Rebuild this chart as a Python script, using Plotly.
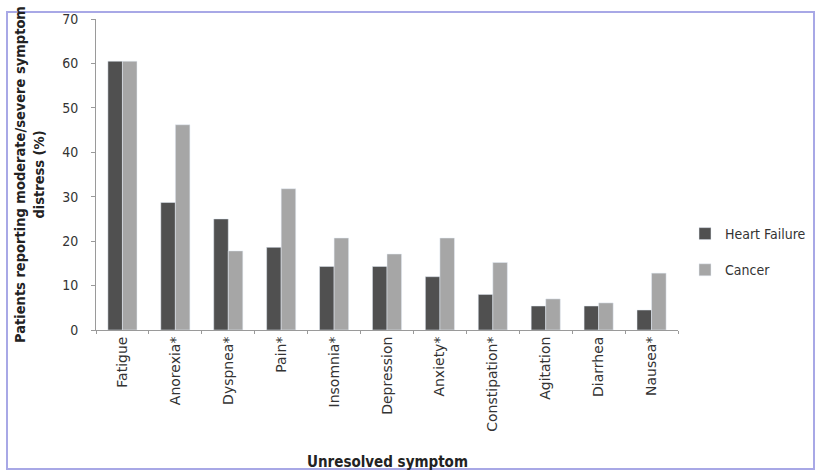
import plotly.graph_objects as go

symptoms = ["Fatigue", "Anorexia*", "Dyspnea*", "Pain*", "Insomnia*", "Depression",
            "Anxiety*", "Constipation*", "Agitation", "Diarrhea", "Nausea*"]
heart_failure = [60.5, 28.7, 25.0, 18.6, 14.3, 14.3, 12.0, 8.0, 5.4, 5.4, 4.5]
cancer = [60.5, 46.2, 17.8, 31.8, 20.7, 17.1, 20.7, 15.2, 7.0, 6.1, 12.8]
y_ticks = [0, 10, 20, 30, 40, 50, 60, 70]

W, H = 816, 471
L, R, T, B = 96, 138, 19, 141
pw, ph = W - L - R, H - T - B

def px_x(x):
    return (x - L) / pw

def px_y(y):
    return (H - B - y) / ph

fig = go.Figure()
fig.add_trace(go.Bar(x=symptoms, y=heart_failure, name="Heart Failure",
                     marker_color="#505050", legendgroup="hf"))
fig.add_trace(go.Bar(x=symptoms, y=cancer, name="Cancer",
                     marker_color="#a6a6a6", legendgroup="ca"))

font_fam = "DejaVu Sans Condensed, Liberation Sans, Arial, sans-serif"

fig.update_layout(
    width=W, height=H,
    margin=dict(l=L, r=R, t=T, b=B, autoexpand=False),
    paper_bgcolor="white", plot_bgcolor="white",
    barmode="group", bargap=0.45, bargroupgap=0,
    font=dict(family=font_fam, color="#333333"),
    legend=dict(x=px_x(685), y=px_y(218), xanchor="left", yanchor="top",
                font=dict(size=14, color="#333333", family=font_fam),
                tracegroupgap=15, traceorder="grouped",
                bgcolor="rgba(0,0,0,0)", itemwidth=30),
    xaxis=dict(
        showline=True, linecolor="#9a9a9a", linewidth=1,
        ticks="outside", tickson="boundaries", ticklen=3, tickcolor="#9a9a9a",
        tickangle=-90,
        tickfont=dict(size=14, color="#333333", family="DejaVu Sans, sans-serif"),
        automargin=False,
    ),
    yaxis=dict(
        range=[0, 70], tickvals=y_ticks,
        showline=True, linecolor="#9a9a9a", linewidth=1,
        ticks="outside", ticklen=4, tickcolor="#9a9a9a",
        ticklabelstandoff=10,
        showgrid=False, zeroline=False,
        tickfont=dict(size=14, color="#333333"),
        title=dict(text="<b>Patients reporting moderate/severe symptom<br>distress (%)</b>",
                   font=dict(size=14.5, color="#222222"), standoff=14),
        automargin=False,
    ),
)

fig.add_annotation(text="<b>Unresolved symptom</b>", xref="paper", yref="paper",
                   x=0.5, y=px_y(462), xanchor="center", yanchor="middle",
                   showarrow=False, font=dict(size=15, color="#222222", family=font_fam))

fig.add_shape(type="rect", xref="paper", yref="paper",
              x0=px_x(7), x1=px_x(814), y0=px_y(469), y1=px_y(12),
              line=dict(color="#a8a8e6", width=2), fillcolor="rgba(0,0,0,0)", layer="below")

fig.write_html("out.html", config={"displayModeBar": False},
               post_script="document.body.style.margin='0';")
